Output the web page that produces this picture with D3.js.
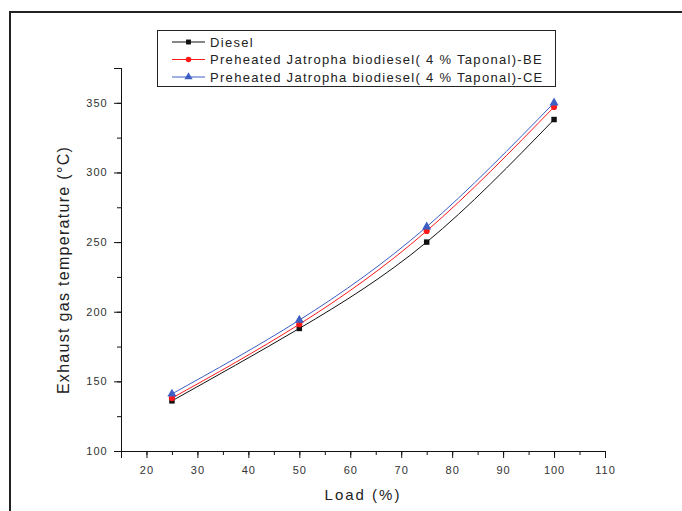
<!DOCTYPE html>
<html><head><meta charset="utf-8">
<script src="https://cdn.jsdelivr.net/npm/d3@7"></script>
<style>body{margin:0;background:#fff}svg{display:block;font-family:Arial,"Liberation Sans",sans-serif}</style>
</head><body><svg id="c" width="682" height="511"></svg>
<script>
const loads = [25, 50, 75, 100];
const diesel = [136, 188, 250, 338];
const jatrophaBE = [138, 191, 258, 347];
const jatrophaCE = [141, 194, 261, 350];
const seriesNames = ["Diesel", "Preheated Jatropha biodiesel( 4 % Taponal)-BE", "Preheated Jatropha biodiesel( 4 % Taponal)-CE"];
const xTicks = [20,30,40,50,60,70,80,90,100,110];
const yTicks = [100,150,200,250,300,350];

const svg = d3.select("#c");
const x = d3.scaleLinear().domain([15,110]).range([121,605]);
const y = d3.scaleLinear().domain([100,375]).range([451,68]);

// outer frame
svg.append("path").attr("d","M10,520 V12 H700").attr("fill","none").attr("stroke","#222").attr("stroke-width",2);

// axes
const xa = svg.append("g").attr("transform","translate(0,451)");
xa.call(d3.axisBottom(x).tickValues(d3.range(15,111,5)).tickSize(4).tickFormat(""));
xa.append("g").call(d3.axisBottom(x).tickValues(xTicks).tickSize(7).tickFormat(d3.format("d")));
xa.selectAll("path.domain").attr("stroke","#111");
xa.selectAll("line").attr("stroke","#111");
xa.selectAll("text").attr("fill","#333").attr("font-size",11).attr("letter-spacing","1").attr("dy","1.2em");

const ya = svg.append("g").attr("transform","translate(121,0)");
ya.call(d3.axisLeft(y).tickValues(d3.range(100,376,25)).tickSize(4).tickFormat(""));
ya.append("g").call(d3.axisLeft(y).tickValues(yTicks).tickSize(7).tickFormat(d3.format("d")));
ya.selectAll("path.domain").attr("stroke","#111");
ya.selectAll("line").attr("stroke","#111");
ya.selectAll("text").attr("fill","#333").attr("font-size",11).attr("letter-spacing","1").attr("dx","-0.3em");

svg.append("text").attr("x",363).attr("y",500).attr("text-anchor","middle").attr("font-size",15).attr("fill","#222").attr("letter-spacing","2").text("Load (%)");
svg.append("text").attr("transform","translate(69,270) rotate(-90)").attr("text-anchor","middle").attr("font-size",16).attr("fill","#222").attr("letter-spacing","1.3").text("Exhaust gas temperature (°C)");

const colors = ["#111","#ff1a1a","#3d5fc4"];
const data = [diesel, jatrophaBE, jatrophaCE];
const symbols = [d3.symbolSquare, d3.symbolCircle, d3.symbolTriangle];
const sizes = [30, 30, 36];
const line = d3.line().x(d=>x(d[0])).y(d=>y(d[1])).curve(d3.curveNatural);

data.forEach((vals,i)=>{
  const pts = loads.map((l,j)=>[l,vals[j]]);
  svg.append("path").attr("d",line(pts)).attr("fill","none").attr("stroke",colors[i]).attr("stroke-width",1);
  svg.selectAll(null).data(pts).enter().append("path")
    .attr("transform",d=>`translate(${x(d[0])},${y(d[1])})`)
    .attr("d",d3.symbol().type(symbols[i]).size(sizes[i])).attr("fill",colors[i]);
});

// legend
const lg = svg.append("g");
lg.append("rect").attr("x",157.5).attr("y",30.5).attr("width",398).attr("height",56).attr("fill","#fff").attr("stroke","#222").attr("stroke-width",1);
seriesNames.forEach((n,i)=>{
  const yy = 42 + i*17.5;
  lg.append("line").attr("x1",172).attr("x2",205).attr("y1",yy).attr("y2",yy).attr("stroke",colors[i]).attr("stroke-width",1);
  lg.append("path").attr("transform",`translate(188.5,${yy})`).attr("d",d3.symbol().type(symbols[i]).size(sizes[i]*0.8)).attr("fill",colors[i]);
  lg.append("text").attr("x",210).attr("y",yy+4.5).attr("font-size",13).attr("fill","#222").attr("letter-spacing","1.3").text(n);
});
</script></body></html>
